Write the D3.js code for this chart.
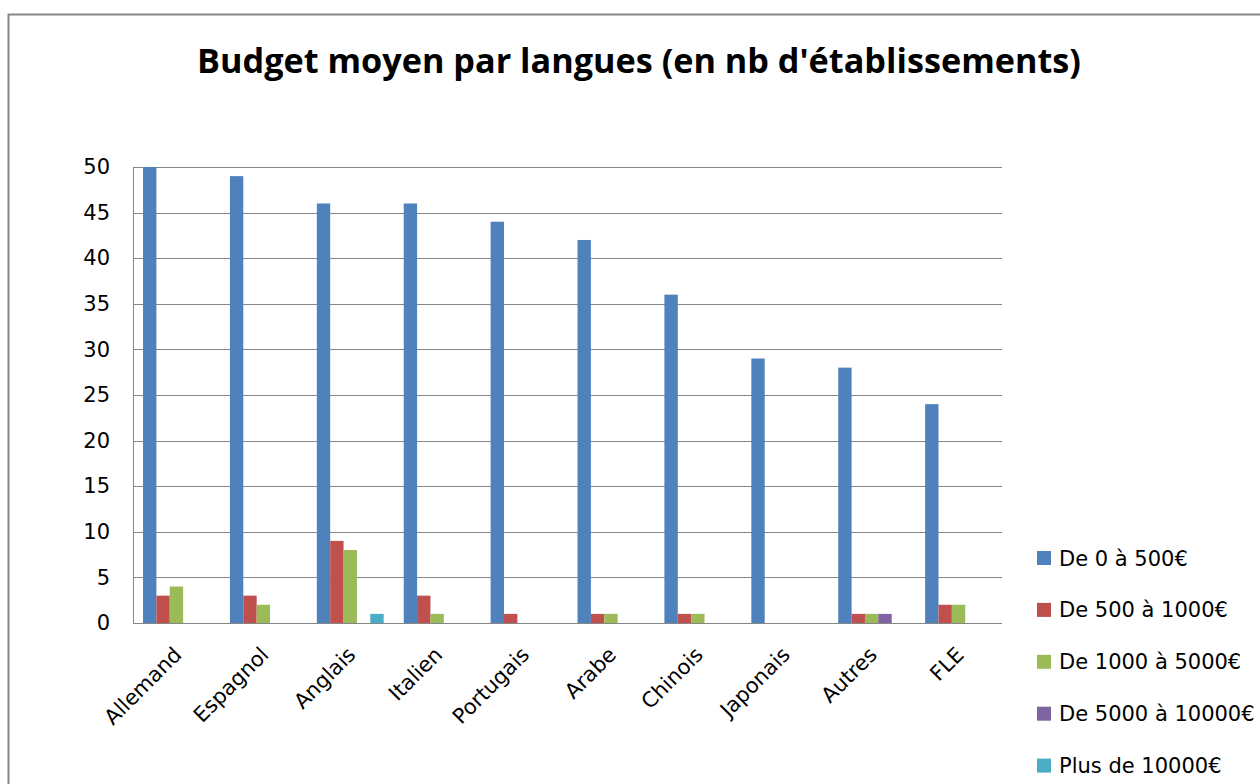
<!DOCTYPE html>
<html><head><meta charset="utf-8">
<script src="https://cdn.jsdelivr.net/npm/d3@7"></script>
<style>body{margin:0;background:#fff}svg{display:block}text{font-family:"DejaVu Sans",sans-serif}</style>
</head><body><svg id="c" width="1260" height="784"></svg>
<script>
const categories = ["Allemand","Espagnol","Anglais","Italien","Portugais","Arabe","Chinois","Japonais","Autres","FLE"];
const seriesNames = ["De 0 à 500€","De 500 à 1000€","De 1000 à 5000€","De 5000 à 10000€","Plus de 10000€"];
const s0to500 = [50,49,46,46,44,42,36,29,28,24];
const s500to1000 = [3,3,9,3,1,1,1,0,1,2];
const s1000to5000 = [4,2,8,1,0,1,1,0,1,2];
const s5000to10000 = [0,0,0,0,0,0,0,0,1,0];
const sOver10000 = [0,0,1,0,0,0,0,0,0,0];
const yTicks = [0,5,10,15,20,25,30,35,40,45,50];
const colors = ["#4F81BD","#C0504D","#9BBB59","#8064A2","#4BACC6"];
const title = "Budget moyen par langues (en nb d'établissements)";
const allSeries = [s0to500,s500to1000,s1000to5000,s5000to10000,sOver10000];

const svg = d3.select("#c");
svg.append("rect").attr("x",8.5).attr("y",14.5).attr("width",1300).attr("height",900)
  .attr("fill","#fff").attr("stroke","#878787").attr("stroke-width",2);

const L=133, R=1002, T=167, B=623;
const x = d3.scaleBand().domain(categories).range([L,R]).paddingInner(0).paddingOuter(0);
const y = d3.scaleLinear().domain([0,50]).range([B,T]);

// grid
svg.append("g").selectAll("line").data(yTicks).join("line")
  .attr("x1",L).attr("x2",R).attr("y1",d=>Math.round(y(d))+0.5).attr("y2",d=>Math.round(y(d))+0.5)
  .attr("stroke","#868686").attr("stroke-width",1);
svg.append("line").attr("x1",L+0.5).attr("x2",L+0.5).attr("y1",T).attr("y2",B+1).attr("stroke","#868686");

// bars
const bw = x.bandwidth()/6.5;
allSeries.forEach((vals,si)=>{
  svg.append("g").selectAll("rect").data(vals.map((v,i)=>({v,c:categories[i]}))).join("rect")
    .attr("x",d=>x(d.c)+0.75*bw+si*bw).attr("width",bw)
    .attr("y",d=>y(d.v)).attr("height",d=>y(0)-y(d.v)).attr("fill",colors[si]);
});

// y axis labels
const yAxis = d3.axisLeft(y).tickValues(yTicks).tickSize(0).tickPadding(23);
const ga = svg.append("g").attr("transform",`translate(${L},0)`).call(yAxis);
ga.select(".domain").remove();
ga.selectAll("text").attr("font-size",21).attr("fill","#000").style("font-family","DejaVu Sans");

// x labels
svg.append("g").selectAll("text").data(categories).join("text")
  .attr("transform",d=>`translate(${x(d)+x.bandwidth()/2+6.5},${B+33}) rotate(-45)`)
  .attr("text-anchor","end").attr("font-size",21).text(d=>d);

// title
const t = svg.append("text").attr("x",639).attr("y",73).attr("text-anchor","middle")
  .style("font-family","'Open Sans', sans-serif").attr("font-size",32).attr("font-weight","bold").text(title);
const w = t.node().getComputedTextLength();
t.attr("font-size",32*884/w);

// legend
const lg = svg.append("g").selectAll("g").data(seriesNames).join("g")
  .attr("transform",(d,i)=>`translate(1037,${558+i*51.9})`);
lg.append("rect").attr("x",0).attr("y",-7).attr("width",14).attr("height",14).attr("fill",(d,i)=>colors[i]);
lg.append("text").attr("x",22).attr("y",0).attr("dy","0.36em").attr("font-size",21).text(d=>d);
</script></body></html>
